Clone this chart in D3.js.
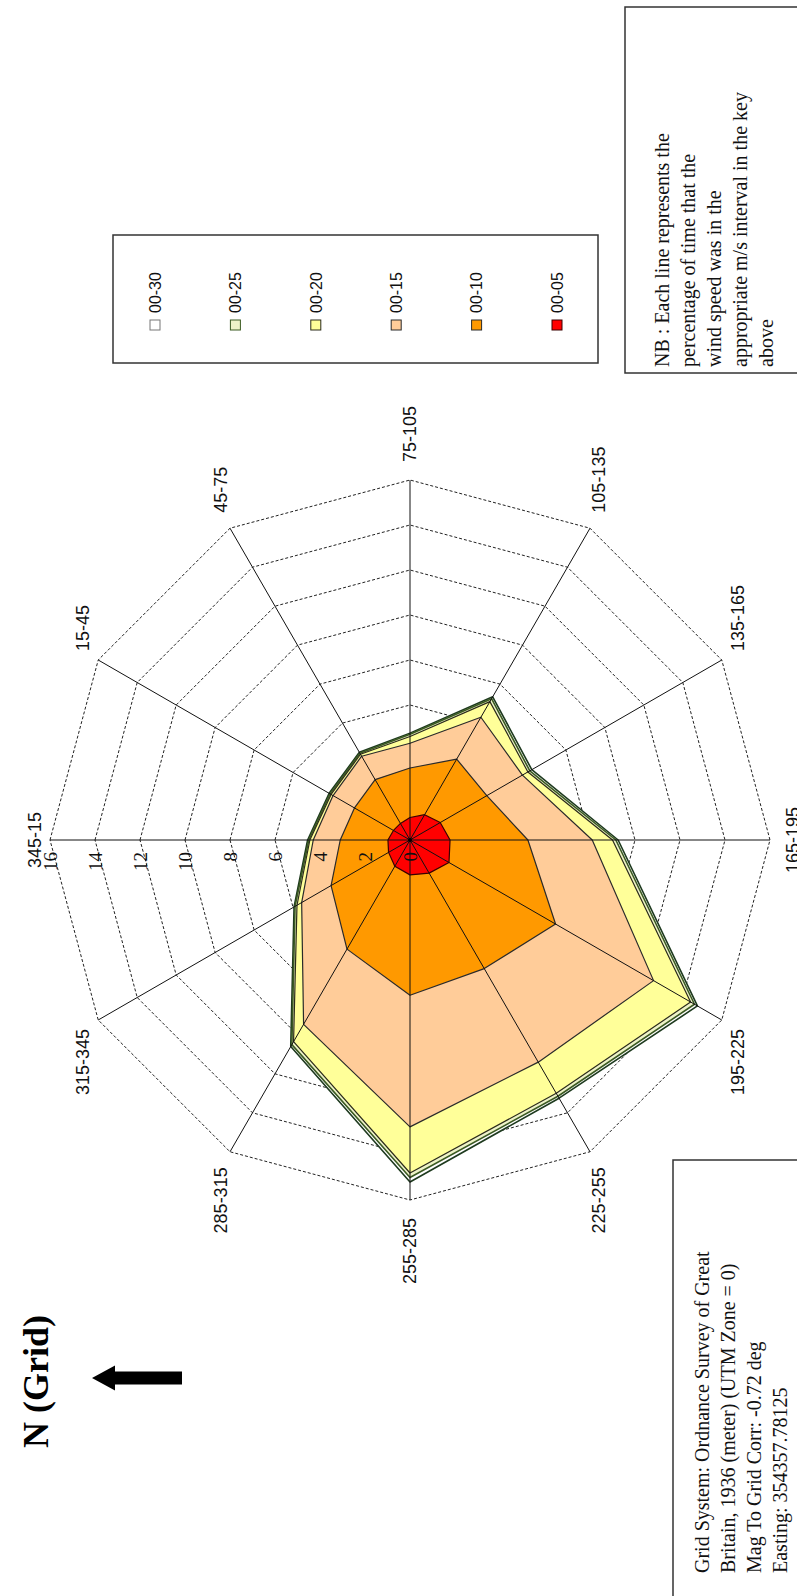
<!DOCTYPE html>
<html>
<head>
<meta charset="utf-8">
<script src="https://cdn.jsdelivr.net/npm/d3@7/dist/d3.min.js"></script>
<style>
body { margin: 0; background: #fff; }
svg { display: block; }
</style>
</head>
<body>
<div id="mapContainer"></div>
<script>
// wind direction sectors, clockwise from grid north
var sectors = ["345-15", "15-45", "45-75", "75-105", "105-135", "135-165",
		"165-195", "195-225", "225-255", "255-285", "285-315", "315-345"];

// cumulative % of time per speed band (m/s), one value per sector
var bands = ["00-30", "00-25", "00-20", "00-15", "00-10", "00-05"];
var s00_30 = [4.55, 4.15, 4.5, 4.75, 7.35, 6.25, 9.25, 14.75, 13.25, 15.2, 10.6, 5.95];
var s00_25 = [4.5, 4.1, 4.45, 4.7, 7.25, 6.15, 9.15, 14.6, 13.15, 15.0, 10.5, 5.9];
var s00_20 = [4.45, 4.05, 4.4, 4.6, 7.1, 6.05, 9.0, 14.4, 13.0, 14.8, 10.35, 5.8];
var s00_15 = [4.3, 3.95, 4.3, 4.3, 6.3, 5.77, 8.1, 12.5, 11.4, 12.75, 9.46, 5.56];
var s00_10 = [3.1, 2.85, 3.1, 3.2, 4.15, 3.94, 5.24, 7.47, 6.6, 6.9, 5.6, 4.05];
var s00_05 = [0.98, 0.85, 0.85, 1.0, 1.3, 1.55, 1.78, 2.0, 1.7, 1.55, 1.35, 1.1];

var ticks = [0, 2, 4, 6, 8, 10, 12, 14, 16];

var noteLines = ["NB : Each line represents the", "percentage of time that the",
		"wind speed was in the", "appropriate m/s interval in the key", "above"];
var gridLines = ["Grid System: Ordnance Survey of Great",
		"Britain, 1936 (meter) (UTM Zone = 0)", "Mag To Grid Corr: -0.72 deg",
		"Easting: 354357.78125"];

var series = [s00_30, s00_25, s00_20, s00_15, s00_10, s00_05];
var fills = ["#ffffff", "#eef3c8", "#ffff99", "#ffcc99", "#ff9900", "#ff0000"];
var strokes = ["#1e3a1e", "#3b5a22", "#2b2b1a", "#2a2a2a", "#2a2a2a", "#3a0000"];

var W = 797, H = 1596;
var svg = d3.select("div#mapContainer").append("svg").attr("width", W).attr("height", H);

// the page is the chart turned a quarter turn: draw upright, then rotate
var chart = svg.append("g").attr("transform", "translate(0," + H + ") rotate(-90)");

var cx = 756, cy = 410, R = 360;
var r = d3.scaleLinear().domain([0, 16]).range([0, R]);
var a = d3.scalePoint().domain(sectors)
		.range([0, 2 * Math.PI * (sectors.length - 1) / sectors.length]);

var radar = d3.lineRadial().angle(function(d, i) {
	return a(sectors[i]);
}).radius(function(d) {
	return r(d);
}).curve(d3.curveLinearClosed);

var plot = chart.append("g").attr("transform", "translate(" + cx + "," + cy + ")");

// dashed rings
plot.selectAll("path.ring").data(ticks.slice(1)).enter().append("path")
		.attr("class", "ring")
		.attr("d", function(t) {
			return radar(sectors.map(function() { return t; }));
		}).style("fill", "none").style("stroke", "#222")
		.style("stroke-width", "1px").style("stroke-dasharray", "3,2");

// stacked band areas, widest first
plot.selectAll("path.band").data(series).enter().append("path")
		.attr("class", "band").attr("d", radar)
		.style("fill", function(d, i) { return fills[i]; })
		.style("stroke", function(d, i) { return strokes[i]; })
		.style("stroke-width", function(d, i) { return i < 2 ? "1.6px" : "1.2px"; })
		.style("stroke-linejoin", "round");

// spokes
plot.selectAll("line.spoke").data(sectors).enter().append("line")
		.attr("class", "spoke")
		.attr("x1", 0).attr("y1", 0)
		.attr("x2", function(s) { return r(16) * Math.sin(a(s)); })
		.attr("y2", function(s) { return -r(16) * Math.cos(a(s)); })
		.style("stroke", "#111").style("stroke-width", "1px");

plot.append("circle").attr("r", 2).style("fill", "#000");

// sector labels
function labelGap(s) {
	var cs = Math.cos(a(s));
	if (Math.abs(Math.sin(a(s))) > 0.01) return 18;
	return cs > 0 ? 15 : 23;
}
plot.selectAll("text.sector").data(sectors).enter().append("text")
		.attr("class", "sector")
		.attr("x", function(s) { return (r(16) + labelGap(s)) * Math.sin(a(s)); })
		.attr("y", function(s) { return -(r(16) + labelGap(s)) * Math.cos(a(s)); })
		.attr("dy", "0.36em")
		.attr("text-anchor", function(s) {
			var sn = Math.sin(a(s));
			return Math.abs(sn) < 0.01 ? "middle" : (sn > 0 ? "start" : "end");
		})
		.style("font-family", "'Liberation Sans', Arial, sans-serif")
		.style("font-size", "18px").style("fill", "#111")
		.text(function(s) { return s; });

// value labels on the north axis
plot.selectAll("text.tick").data(ticks).enter().append("text")
		.attr("class", "tick")
		.attr("x", -12).attr("y", function(t) { return -r(t); })
		.attr("dy", "0.35em").attr("text-anchor", "end")
		.style("font-family", "'Liberation Serif', 'Times New Roman', serif")
		.style("font-size", "19px").style("fill", "#111")
		.text(function(t) { return t; });

// legend
var legend = chart.append("g");
legend.append("rect").attr("x", 1233).attr("y", 113).attr("width", 128).attr("height", 485)
		.style("fill", "#fff").style("stroke", "#333").style("stroke-width", "1.5px");
var ly = d3.scalePoint().domain(bands).range([155, 557]);
var item = legend.selectAll("g.item").data(bands).enter().append("g")
		.attr("class", "item")
		.attr("transform", function(b) { return "translate(1266," + ly(b) + ")"; });
item.append("rect").attr("x", 0).attr("y", -5).attr("width", 10).attr("height", 10)
		.style("fill", function(b, i) { return fills[i]; })
		.style("stroke", function(b, i) { return i == 0 ? "#777" : strokes[i]; })
		.style("stroke-width", "1px");
item.append("text").attr("x", 17).attr("y", 0).attr("dy", "0.36em")
		.style("font-family", "'Liberation Sans', Arial, sans-serif")
		.style("font-size", "16px").style("fill", "#111")
		.text(function(b) { return b; });

// note box
chart.append("rect").attr("x", 1223).attr("y", 625).attr("width", 366).attr("height", 220)
		.style("fill", "#fff").style("stroke", "#333").style("stroke-width", "1.5px");
chart.selectAll("text.note").data(noteLines).enter().append("text")
		.attr("class", "note").attr("x", 1229)
		.attr("y", function(d, i) { return 663 + 26 * i; }).attr("dy", "0.32em")
		.style("font-family", "'Liberation Serif', 'Times New Roman', serif")
		.style("font-size", "20px").style("fill", "#111")
		.text(function(d) { return d; });

// grid system box
chart.append("rect").attr("x", -10).attr("y", 673).attr("width", 446).attr("height", 220)
		.style("fill", "#fff").style("stroke", "#333").style("stroke-width", "1.5px");
chart.selectAll("text.grid").data(gridLines).enter().append("text")
		.attr("class", "grid").attr("x", 23)
		.attr("y", function(d, i) { return 703 + 26 * i; }).attr("dy", "0.32em")
		.style("font-family", "'Liberation Serif', 'Times New Roman', serif")
		.style("font-size", "20px").style("fill", "#111")
		.text(function(d) { return d; });

// north arrow
chart.append("text").attr("x", 148).attr("y", 48)
		.style("font-family", "'Liberation Serif', 'Times New Roman', serif")
		.style("font-size", "36px").style("font-weight", "bold").style("fill", "#000")
		.text("N (Grid)");
chart.append("path")
		.attr("d", "M218,92 L230.5,115 L224.5,115 L224.5,182 L211.5,182 L211.5,115 L205.5,115 Z")
		.style("fill", "#000");
</script>
</body>
</html>
